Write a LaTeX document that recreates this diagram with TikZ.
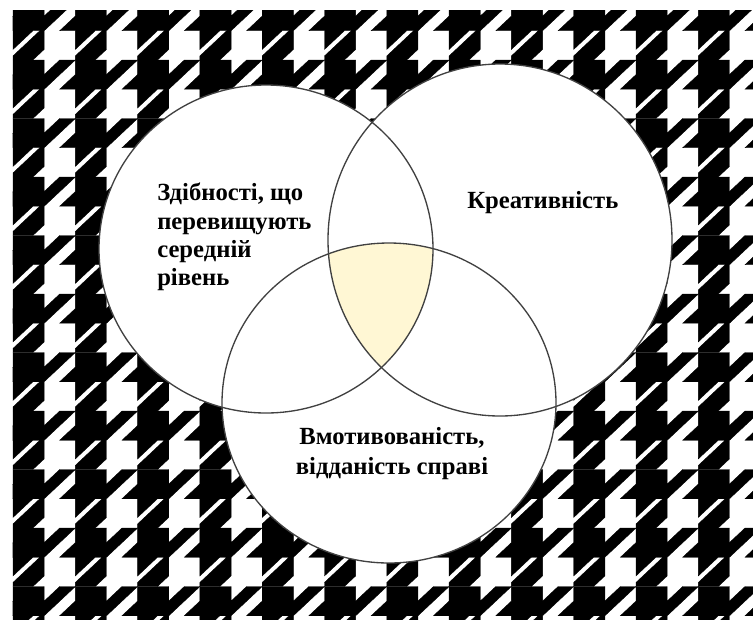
\documentclass[tikz,border=0pt]{standalone}
\usepackage{fontspec}
\setmainfont{Liberation Serif}
\usepackage{xcolor}
\usepackage{tikz}
\definecolor{cream}{RGB}{255,247,212}
\definecolor{rim}{RGB}{65,65,65}

\begin{document}
\begin{tikzpicture}[x=0.75pt,y=-0.75pt,
  set/.style={draw=rim,line width=1pt},
  lbl/.style={font=\bfseries\fontsize{18.5}{21.25}\selectfont,inner sep=0pt}]
  \useasboundingbox (0,0) rectangle (753,619);
  % houndstooth ground, one tooth per cell of 62.3 x 58.5 px, \a thins the white slash
  \def\a{0.55}
  \begin{scope}
    \clip (12.5,10) rectangle (753,619);
    \foreach \i in {0,...,12}
      \foreach \j in {-6,...,6}
        \filldraw[black,line width=0.3pt,shift={(13+62.3*\i,294+58.5*\j)},xscale=7.79,yscale=7.31]
          (0,0) -- (4,0) -- (4,2) -- (6,0) -- (8,0) -- (4,4)
          -- (4,6+\a) -- (2+\a,8) -- (0,8) -- (0,8-\a) -- (4-\a,4) -- (2+\a,4)
          -- (0,6+\a) -- (0,4) -- (-2,4) -- (0,2) -- cycle;
  \end{scope}
  % the three sets
  \def\abil{(266,249) ellipse [x radius=167, y radius=164]}
  \def\creat{(500,240) ellipse [x radius=172, y radius=176]}
  \def\motiv{(389,403) ellipse [x radius=167, y radius=160]}
  \fill[white] \abil;
  \fill[white] \creat;
  \fill[white] \motiv;
  \begin{scope}
    \clip \abil;
    \clip \creat;
    \fill[cream] \motiv;
  \end{scope}
  \draw[set] \abil;
  \draw[set] \creat;
  \draw[set] \motiv;
  % labels
  \node[lbl,anchor=north west,align=left] (ablbl) at (157,183)
    {Здібності, що\\перевищують\\середній\\рівень};
  \node[lbl,anchor=north west] (crlbl) at (467,191) {Креативність};
  \node[lbl,anchor=north,align=center,
        font=\bfseries\fontsize{18.5}{22.5}\selectfont] (mtlbl) at (392,427)
    {Вмотивованість,\\відданість справі};
\end{tikzpicture}
\end{document}
